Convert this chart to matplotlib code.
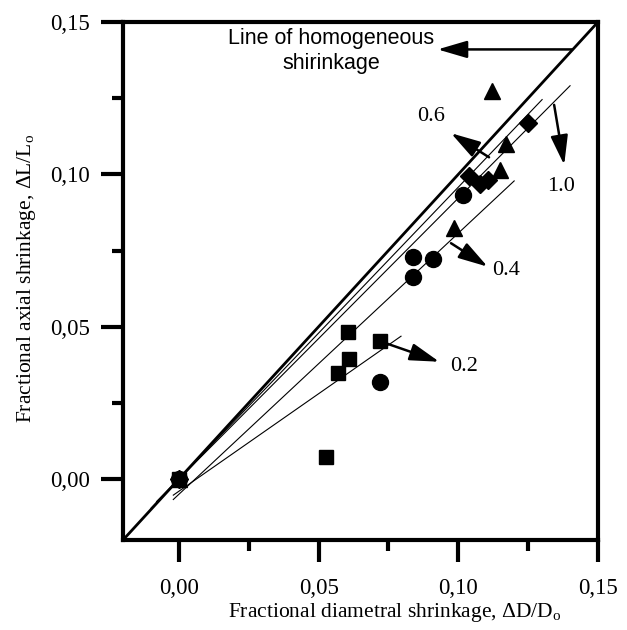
import numpy as np
import matplotlib
matplotlib.use("Agg")
from matplotlib import pyplot as plt
from matplotlib.ticker import MultipleLocator, FuncFormatter

# data
sq_x = [0.0, 0.0605, 0.0718, 0.0608, 0.0569, 0.0527]
sq_y = [0.0, 0.0482, 0.0453, 0.0393, 0.0347, 0.0073]

ci_x = [0.0, 0.1018, 0.0837, 0.0908, 0.0837, 0.0718]
ci_y = [0.0, 0.0932, 0.0730, 0.0721, 0.0664, 0.0319]

tr_x = [0.0, 0.1120, 0.1170, 0.1150, 0.0986]
tr_y = [0.0, 0.1275, 0.1100, 0.1015, 0.0823]

di_x = [0.0, 0.1251, 0.1040, 0.1078, 0.1105]
di_y = [0.0, 0.1168, 0.0995, 0.0968, 0.0982]

# fitted lines: slope, intercept, x start, x end
fit_names = ["0.2", "0.4", "0.6", "1.0"]
fit_slope = [0.64, 0.857, 0.958, 0.922]
fit_icpt = [-0.004, -0.005, 0.0, 0.0]
fit_x0 = [-0.002, -0.002, -0.010, -0.008]
fit_x1 = [0.0795, 0.120, 0.130, 0.140]

# annotation labels: text, label pos, arrow tail, arrow head
ann_text = ["0.2", "0.4", "0.6", "1.0"]
ann_pos = [(0.1021, 0.0369), (0.1170, 0.0686), (0.0903, 0.1190), (0.1367, 0.0960)]
ann_tail = [(0.0718, 0.0453), (0.0974, 0.0774), (0.1110, 0.1056), (0.1343, 0.1228)]
ann_head = [(0.0932, 0.0385), (0.1105, 0.0697), (0.0974, 0.1135), (0.1379, 0.1031)]


plt.rcParams["mathtext.fontset"] = "custom"
plt.rcParams["mathtext.rm"] = "Liberation Serif"

fig = plt.figure(figsize=(6.27, 6.30), dpi=100)
ax = fig.add_axes([123/627, 1-540/630, 475/627, 518/630])

serif = "Liberation Serif"
sans = "Liberation Sans"

# homogeneous shrinkage line
ax.plot([-0.02, 0.15], [-0.02, 0.15], color="k", lw=2.0)

for s, b, x0, x1 in zip(fit_slope, fit_icpt, fit_x0, fit_x1):
	xx = np.array([x0, x1])
	ax.plot(xx, s*xx + b, color="k", lw=0.8)

ax.plot(sq_x, sq_y, "s", color="k", ms=10.5)
ax.plot(ci_x, ci_y, "o", color="k", ms=11.5)
ax.plot(tr_x, tr_y, "^", color="k", ms=12)
ax.plot(di_x, di_y, "D", color="k", ms=9.5)

arrow = dict(arrowstyle="-|>,head_length=0.75,head_width=0.22", color="k", lw=1.8,
	mutation_scale=24, shrinkA=0, shrinkB=0)

for t, p, tl, hd in zip(ann_text, ann_pos, ann_tail, ann_head):
	ax.annotate("", xy=hd, xytext=tl, arrowprops=arrow)
	ax.text(p[0], p[1], t, fontsize=16, family=serif, ha="center", va="center")

ax.annotate("", xy=(0.0926, 0.141), xytext=(0.1408, 0.141), arrowprops=arrow)
ax.text(0.0545, 0.1405, "Line of homogeneous\nshirinkage", fontsize=15.5, family=sans,
	ha="center", va="center", linespacing=1.25)

ax.set_xlim(-0.02, 0.15)
ax.set_ylim(-0.02, 0.15)
ax.xaxis.set_major_locator(MultipleLocator(0.05))
ax.yaxis.set_major_locator(MultipleLocator(0.05))
ax.xaxis.set_minor_locator(MultipleLocator(0.025))
ax.yaxis.set_minor_locator(MultipleLocator(0.025))
fmt = FuncFormatter(lambda v, pos: ("%.2f" % v).replace(".", ","))
ax.xaxis.set_major_formatter(fmt)
ax.yaxis.set_major_formatter(fmt)
ax.tick_params(which="major", direction="out", length=16, width=3, labelsize=16.5, pad=8)
ax.tick_params(which="minor", direction="out", length=8, width=3)
ax.tick_params(axis="x", which="major", pad=11)
for lab in ax.get_xticklabels() + ax.get_yticklabels():
	lab.set_family(serif)
for sp in ax.spines.values():
	sp.set_linewidth(3)

fig.text(395/627, 1-612/630, r"Fractional diametral shrinkage, $\Delta$D/D$_\mathregular{o}$",
	family=serif, fontsize=15.5, ha="center", va="center")
fig.text(27/627, 1-278/630, r"Fractional axial shrinkage, $\Delta$L/L$_\mathregular{o}$",
	family=serif, fontsize=15.5, ha="center", va="center", rotation=90)

fig.savefig("out.png", dpi=100)
